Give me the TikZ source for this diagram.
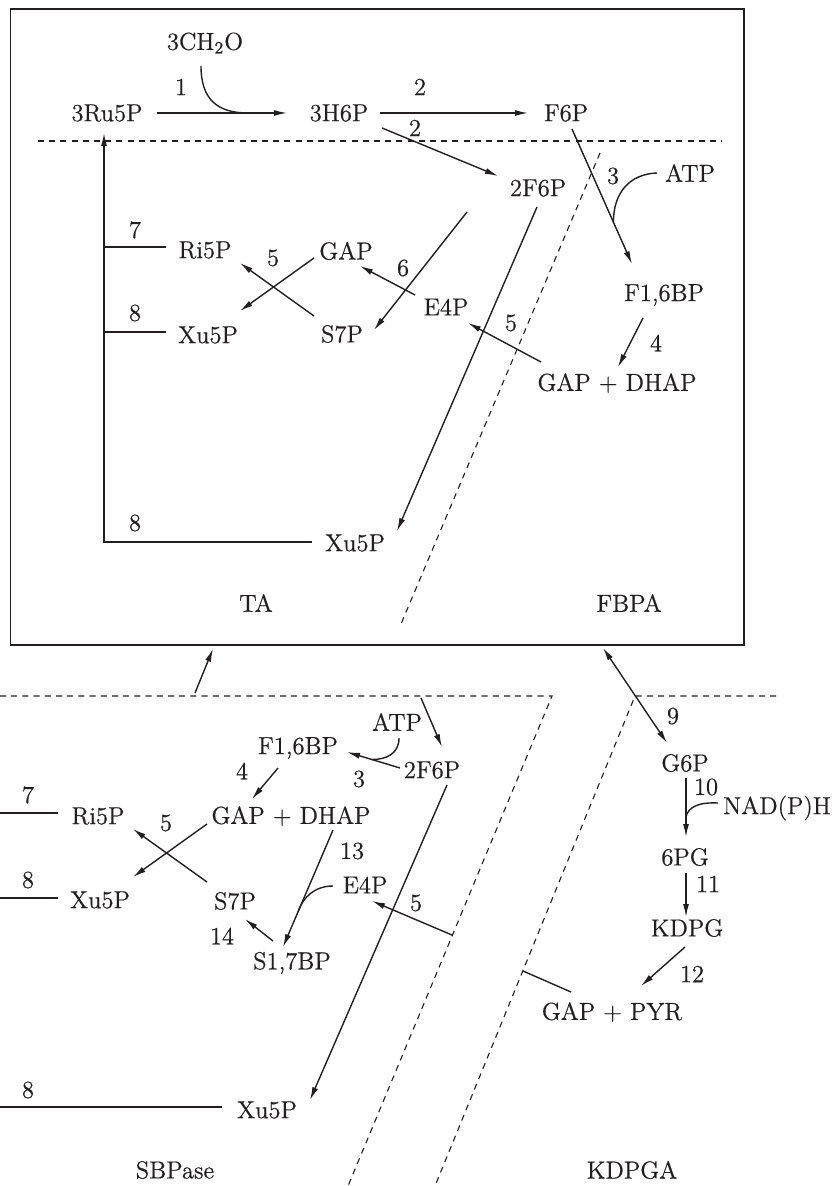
\documentclass[tikz,border=0pt]{standalone}
\usepackage{fontspec}
\newfontfamily\metfont{Latin Modern Roman}[FakeBold=0.6]
\usepackage{tikz}
\usetikzlibrary{arrows.meta,calc}
\definecolor{Ink}{HTML}{231F20}

\begin{document}
\begin{tikzpicture}[x=0.5pt, y=-0.5pt,
  rxn/.style={draw=Ink, line width=0.7pt, -{Latex[length=6.5pt,width=3pt]}},
  link/.style={draw=Ink, line width=0.7pt},
  zone/.style={draw=Ink, line width=0.55pt, dash pattern=on 3pt off 2.6pt},
  met/.style={font=\metfont\fontsize{12.3}{14}\selectfont, text=Ink, inner sep=0pt},
]
\useasboundingbox (0,0) rectangle (832,1186);
% ---------------- upper box: ribulose monophosphate pool
\node[draw=Ink, line width=0.9pt, anchor=north west, inner sep=0pt,
  minimum width=366.75pt, minimum height=318pt] (pool) at (9.5,8) {};
\draw[zone] (38,141) -- (722,141);
\draw[zone] (600,153) -- (401,624);
\node[met] (Ru5P) at (107,113) {3Ru5P};
\node[met] (CH2O) at (205,43) {3CH\textsubscript{2}O};
\node[met] (H6P) at (339,113) {3H6P};
\node[met] (F6P) at (566,113) {F6P};
\node[met] (F6Pb) at (538,188) {2F6P};
\node[met] (ATPa) at (690,173) {ATP};
\node[met] (FBPa) at (664,295) {F1,6BP};
\node[met] (GDa) at (617,383) {GAP + DHAP};
\node[met] (E4Pa) at (446,307) {E4P};
\node[met] (GAPa) at (346,251) {GAP};
\node[met] (S7Pa) at (342,334) {S7P};
\node[met] (Ri5Pa) at (205,250) {Ri5P};
\node[met] (Xu5Pa) at (208,335) {Xu5P};
\node[met] (Xu5Pb) at (355,543) {Xu5P};
\node[met] (TA) at (256,603) {TA};
\node[met] (FBPA) at (629,603) {FBPA};
% step numbers
\node[met] (n1) at (181,87) {1};
\node[met] (n2a) at (420,87) {2};
\node[met] (n2b) at (415,128) {2};
\node[met] (n3a) at (613,176) {3};
\node[met] (n4a) at (656,343) {4};
\node[met] (n5a) at (511,323) {5};
\node[met] (n6) at (403,268) {6};
\node[met] (n5b) at (273,258) {5};
\node[met] (n7a) at (135,230) {7};
\node[met] (n8a) at (135,313) {8};
\node[met] (n8b) at (135,523) {8};
% reactions
\draw[rxn] ($(Ru5P)+(50,0)$) -- coordinate[pos=0.7] (j1) ($(H6P)+(-52,0)$);
\draw[link] ($(CH2O)+(-4,23)$) .. controls ($(CH2O)+(-4,57)$) and ($(j1)+(-30,0)$) .. (j1);
\draw[rxn] ($(H6P)+(41,0)$) -- ($(F6P)+(-38,0)$);
\draw[rxn] ($(H6P)+(43,15)$) -- ($(F6Pb)+(-40,-12)$);
\draw[rxn] ($(F6P)+(6,16)$) -- coordinate[pos=0.69] (j3) ($(FBPa)+(-32,-31)$);
\draw[link] ($(ATPa)+(-33,0)$) .. controls ($(ATPa)+(-60,1)$) and ($(j3)+(0,-30)$) .. (j3);
\draw[rxn] ($(FBPa)+(-21,23)$) -- ($(GDa)+(1,-16)$);
\draw[rxn] ($(GDa)+(-76,-21)$) -- ($(E4Pa)+(22,16)$);
\draw[rxn] ($(E4Pa)+(-31,-12)$) -- ($(GAPa)+(14,15)$);
\draw[rxn] ($(F6Pb)+(-71,24)$) -- ($(S7Pa)+(32,-4)$);
\draw[rxn] ($(GAPa)+(-32,7)$) -- ($(Xu5Pa)+(32,-24)$);
\draw[rxn] ($(S7Pa)+(-28,-18)$) -- ($(Ri5Pa)+(35,13)$);
\draw[rxn] ($(F6Pb)+(-1,19)$) -- ($(Xu5Pb)+(42,-12)$);
\coordinate (cnr) at (104,542);
\draw[rxn] ($(Xu5Pb)+(-43,-1)$) -- (cnr) -- ($(Ru5P)+(-3,20)$);
\draw[link] ($(Ri5Pa)+(-39,-3)$) -- ++(-62,0);
\draw[link] ($(Xu5Pa)+(-42,-3)$) -- ++(-62,0);
% ---------------- exchange with the lower pathways
\coordinate (sbpOut) at (195,693);
\draw[rxn] (sbpOut) -- ($(pool.south west)+(203.5,3)$);
% ---------------- lower part: SBPase and KDPGA variants
\draw[zone] (0,696) -- (552,696) -- (348,1186);
\draw[zone] (776,696) -- (635,696) -- (435,1186);
\node[met] (ATPb) at (397,722) {ATP};
\node[met] (F6Pc) at (432,770) {2F6P};
\node[met] (FBPb) at (298,748) {F1,6BP};
\node[met] (GDb) at (291,816) {GAP + DHAP};
\node[met] (Ri5Pb) at (98,816) {Ri5P};
\node[met] (Xu5Pc) at (100,900) {Xu5P};
\node[met] (S7Pb) at (235,901) {S7P};
\node[met] (E4Pb) at (365,885) {E4P};
\node[met] (S17BP) at (292,963) {S1,7BP};
\node[met] (Xu5Pd) at (267,1110) {Xu5P};
\node[met] (SBPase) at (175,1170) {SBPase};
\node[met] (G6P) at (685,763) {G6P};
\node[met] (PG) at (685,857) {6PG};
\node[met] (KDPG) at (687,928) {KDPG};
\node[met] (GPYR) at (612,1012) {GAP + PYR};
\node[met] (NADPH) at (777,808) {NAD(P)H};
\node[met] (KDPGA) at (632,1170) {KDPGA};
% step numbers
\node[met] (m3) at (359,779) {3};
\node[met] (m4) at (242,771) {4};
\node[met] (m5a) at (166,823) {5};
\node[met] (m7) at (28,795) {7};
\node[met] (m8a) at (28,880) {8};
\node[met] (m13) at (352,851) {13};
\node[met] (m14) at (222,936) {14};
\node[met] (m5b) at (416,903) {5};
\node[met] (m8b) at (28,1090) {8};
\node[met] (m9) at (673,716) {9};
\node[met] (m10) at (706,787) {10};
\node[met] (m11) at (708,884) {11};
\node[met] (m12) at (692,974) {12};
% reactions
\coordinate (sbpIn) at (421,698);
\draw[rxn] (sbpIn) -- ($(F6Pc)+(10,-23)$);
\draw[rxn] ($(F6Pc)+(-32,-2)$) -- coordinate[pos=0.53] (j5) ($(FBPb)+(49,4)$);
\draw[link] ($(ATPb)+(2,16)$) .. controls ($(ATPb)+(2,32)$) and ($(j5)+(14,0)$) .. (j5);
\draw[rxn] ($(FBPb)+(-20,20)$) -- ($(GDb)+(-39,-17)$);
\draw[rxn] ($(GDb)+(-84,8)$) -- ($(Xu5Pc)+(33,-23)$);
\draw[rxn] ($(S7Pb)+(-28,-19)$) -- ($(Ri5Pb)+(35,13)$);
\draw[link] ($(Ri5Pb)+(-40,-3)$) -- ++(-58,0);
\draw[link] ($(Xu5Pc)+(-42,-2)$) -- ++(-58,0);
\draw[rxn] ($(GDb)+(42,14)$) -- coordinate[pos=0.7] (j13) ($(S17BP)+(-9,-16)$);
\draw[link] ($(E4Pb)+(-32,1)$) .. controls ($(E4Pb)+(-50,1)$) and ($(j13)+(5,-15)$) .. (j13);
\draw[rxn] ($(S17BP)+(-19,-22)$) -- ($(S7Pb)+(10,18)$);
\coordinate (sbpCut) at (452,935);
\draw[rxn] (sbpCut) -- ($(E4Pb)+(7,16)$);
\draw[rxn] ($(F6Pc)+(15,15)$) -- ($(Xu5Pd)+(43,-10)$);
\draw[link] ($(Xu5Pd)+(-45,-3)$) -- ++(-222,0);
% Entner-Doudoroff branch
\draw[{Latex[length=6.5pt,width=3pt]}-{Latex[length=6.5pt,width=3pt]}, draw=Ink, line width=0.7pt]
  ($(pool.south west)+(593.5,2)$) -- ($(G6P)+(-18,-20)$);
\draw[rxn] ($(G6P)+(1,15)$) -- coordinate[pos=0.66] (j10) ($(PG)+(1,-20)$);
\draw[link] ($(NADPH)+(-59,-5)$) .. controls ($(NADPH)+(-78,-6)$) and ($(j10)+(2,-10)$) .. (j10);
\draw[rxn] ($(PG)+(1,16)$) -- ($(KDPG)+(-1,-11)$);
\draw[rxn] ($(KDPG)+(-2,19)$) -- ($(GPYR)+(29,-26)$);
\coordinate (kdpCut) at (523,971);
\draw[link] ($(GPYR)+(-41,-20)$) -- (kdpCut);
\end{tikzpicture}
\end{document}
